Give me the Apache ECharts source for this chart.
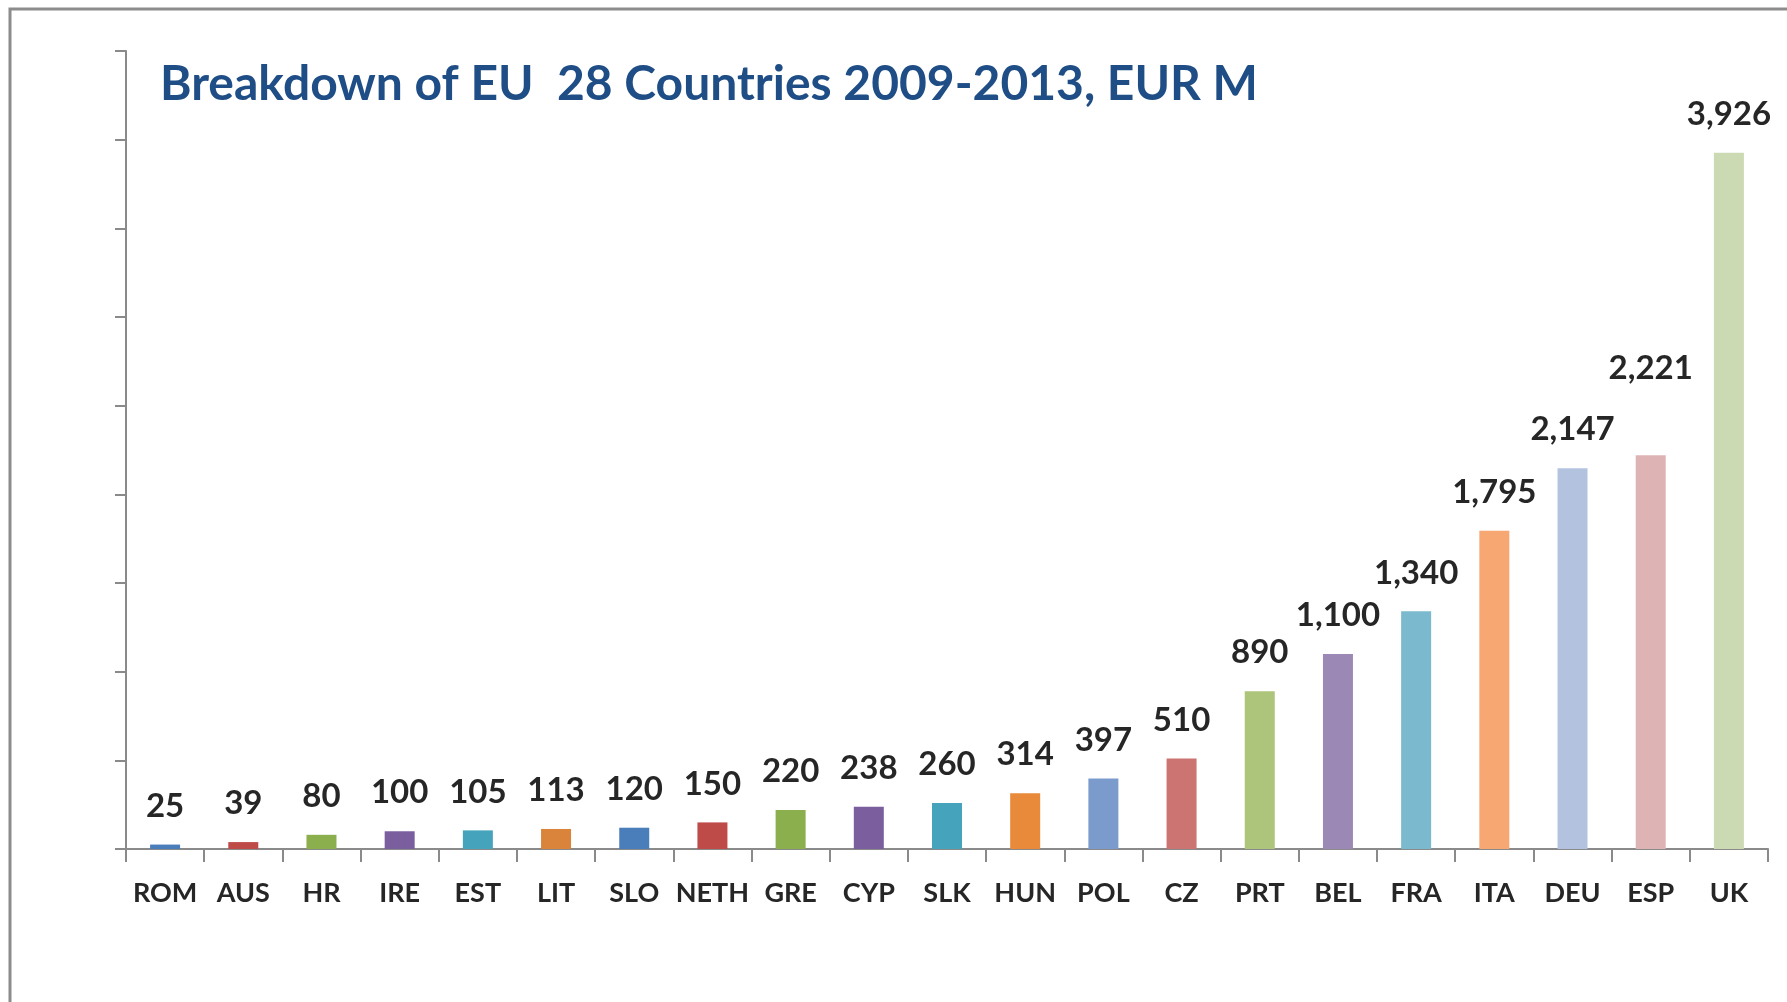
<!DOCTYPE html>
<html>
<head>
<meta charset="utf-8">
<script src="https://cdn.jsdelivr.net/npm/echarts@6/dist/echarts.min.js"></script>
<style>
  html, body { margin: 0; padding: 0; background: #fff; }
  #main { width: 1787px; height: 1002px; }
</style>
</head>
<body>
<div id="main"></div>
<script>
// countries, sorted by value
var countries = ['ROM', 'AUS', 'HR', 'IRE', 'EST', 'LIT', 'SLO', 'NETH', 'GRE', 'CYP', 'SLK',
  'HUN', 'POL', 'CZ', 'PRT', 'BEL', 'FRA', 'ITA', 'DEU', 'ESP', 'UK'];
// EUR M, 2009-2013
var values = [25, 39, 80, 100, 105, 113, 120, 150, 220, 238, 260,
  314, 397, 510, 890, 1100, 1340, 1795, 2147, 2221, 3926];
// one colour per bar (excel-ish palette)
var barColors = ['#4A7EBB', '#BE4B48', '#8AAF4C', '#7A5E9E', '#45A3BC', '#D9843A',
  '#4A7EBB', '#BE4B48', '#8AAF4C', '#7A5E9E', '#45A3BC', '#E88A3A',
  '#7B9BCC', '#CC7472', '#ADC57A', '#9C88B4', '#7BB9CF', '#F7A872',
  '#B3C3DF', '#DEB3B3', '#CCDAB3'];

var myChart = echarts.init(document.getElementById('main'));

var axisGrey = '#8a8a8a';
var textFont = 'Lato, "Noto Sans", sans-serif';

var option = {
  animation: false,
  backgroundColor: '#fff',
  title: {
    text: 'Breakdown of EU  28 Countries 2009-2013, EUR M',
    left: 160,
    top: 61,
    padding: 0,
    textStyle: {
      fontFamily: textFont,
      fontSize: 48,
      fontWeight: 'bold',
      color: '#1F4E86'
    }
  },
  graphic: [{
    // frame around the original picture (top + left edge visible)
    type: 'rect',
    shape: { x: 10, y: 9, width: 2000, height: 2000 },
    style: { fill: 'none', stroke: '#8c8c8c', lineWidth: 3 }
  }],
  grid: {
    left: 126,
    right: 19,
    top: 51,
    bottom: 1002 - 849,
    containLabel: false
  },
  xAxis: {
    type: 'category',
    data: countries,
    boundaryGap: true,
    axisLine: { lineStyle: { color: axisGrey, width: 2 } },
    axisTick: { show: true, length: 13, lineStyle: { color: axisGrey, width: 2 } },
    axisLabel: {
      margin: 31,
      interval: 0,
      fontFamily: textFont,
      fontSize: 27,
      fontWeight: 'bold',
      color: '#262626'
    }
  },
  yAxis: {
    type: 'value',
    min: 0,
    max: 4500,
    interval: 500,
    axisLine: { show: true, lineStyle: { color: axisGrey, width: 2 } },
    axisTick: { show: true, length: 11, lineStyle: { color: axisGrey, width: 2 } },
    axisLabel: { show: false },
    splitLine: { show: false }
  },
  series: [{
    type: 'bar',
    barWidth: 30,
    data: values.map(function (v, i) {
      var item = { value: v, itemStyle: { color: barColors[i] } };
      // ESP label sits higher so it clears the DEU label
      if (countries[i] === 'ESP') {
        item.label = { offset: [0, -48] };
      }
      return item;
    }),
    label: {
      show: true,
      position: 'top',
      distance: 22,
      fontFamily: textFont,
      fontSize: 33,
      fontWeight: 'bold',
      color: '#262626',
      formatter: function (p) {
        return p.value.toLocaleString('en-US');
      }
    }
  }]
};

myChart.setOption(option);
</script>
</body>
</html>
